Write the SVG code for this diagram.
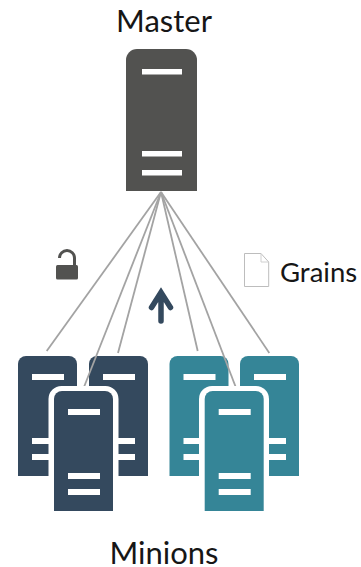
<svg xmlns="http://www.w3.org/2000/svg" width="361" height="567" viewBox="0 0 361 567">
<style>
text{font-family:Lato,"Liberation Sans",sans-serif;fill:#161616}
.l{font-size:31px}.g{font-size:27.500px}
.c line{stroke:#a3a3a3;stroke-width:1.8;fill:none}
.b{fill:#fff}
.n{fill:#34495e}.t{fill:#358597}.m{fill:#525250}
.halo{fill:#fff}
</style>
<defs>
<path id="srv" d="M0 120V8a8 8 0 0 1 8-8H51a8 8 0 0 1 8 8V120Z"/>
<g id="bars" class="b"><rect x="14" y="18" width="32" height="6"/><rect x="14" y="82" width="32" height="6"/><rect x="14" y="98" width="32" height="6"/></g>
</defs>
<rect width="361" height="567" fill="#fff"/>
<g id="connectors" class="c">
<line x1="161" y1="192" x2="46.7" y2="351"/>
<line x1="161" y1="192" x2="118" y2="353"/>
<line x1="161" y1="192" x2="197.7" y2="351"/>
<line x1="161" y1="192" x2="269.3" y2="353"/>
</g>
<g id="master">
<path class="m" d="M126 191V60a11 11 0 0 1 11-11H186a11 11 0 0 1 11 11V191Z"/>
<g class="b"><rect x="142" y="69" width="40" height="5.500"/><rect x="142" y="151" width="40" height="5.500"/><rect x="142" y="170" width="40" height="5.500"/></g>
<text class="l" x="164" y="32" text-anchor="middle">Master</text>
</g>
<g id="minion-navy-1"><use href="#srv" x="18" y="356" class="n"/><use href="#bars" x="18" y="356"/></g>
<g id="minion-navy-2"><use href="#srv" x="89" y="356" class="n"/><use href="#bars" x="89" y="356"/></g>
<g id="minion-teal-1"><use href="#srv" x="169.500" y="356" class="t"/><use href="#bars" x="169.500" y="356"/></g>
<g id="minion-teal-2"><use href="#srv" x="240" y="356" class="t"/><use href="#bars" x="240" y="356"/></g>
<g id="connectors-front" class="c">
<line x1="161" y1="192" x2="84" y2="387"/>
<line x1="161" y1="192" x2="235.700" y2="387"/>
</g>
<g id="minion-navy-front">
<path class="halo" d="M48.500 516V399a13 13 0 0 1 13-13H105.500a13 13 0 0 1 13 13V516Z"/>
<use href="#srv" x="54" y="391" class="n"/><use href="#bars" x="54" y="391"/></g>
<g id="minion-teal-front">
<path class="halo" d="M199 516V399a13 13 0 0 1 13-13H256a13 13 0 0 1 13 13V516Z"/>
<use href="#srv" x="204.700" y="391" class="t"/><use href="#bars" x="204.700" y="391"/></g>
<g id="lock">
<path d="M59.500 258a7.500 7.500 0 0 1 15 0V266" fill="none" stroke="#525250" stroke-width="3"/>
<rect x="56" y="265" width="22" height="14.500" rx="1.500" fill="#525250"/>
</g>
<g id="grains">
<path d="M244.500 253.500H261L268.700 262V286.500H244.500Z" fill="#fff" stroke="#bdbdbd" stroke-width="1"/>
<path d="M261 253.500V262H268.700" fill="none" stroke="#d0d0d0" stroke-width="1"/>
<text class="g" x="280" y="282">Grains</text>
</g>
<g id="arrow">
<path d="M161 321V293M151.500 307.500L161 292.500L170.500 307.500" fill="none" stroke="#34495e" stroke-width="5.500" stroke-linecap="round"/>
</g>
<text class="l" x="164" y="564" text-anchor="middle">Minions</text>
</svg>
